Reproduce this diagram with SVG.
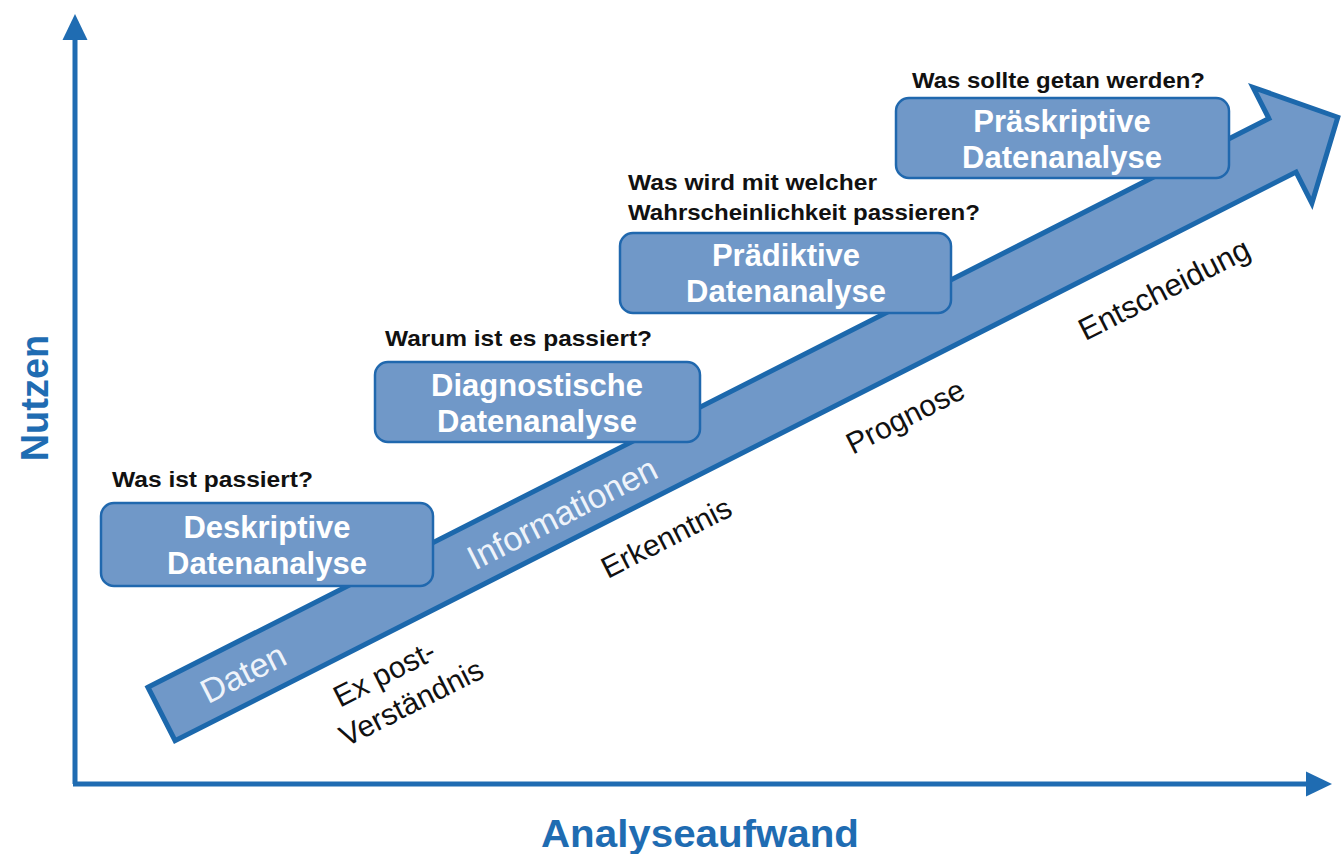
<svg xmlns="http://www.w3.org/2000/svg" width="1344" height="854" viewBox="0 0 1344 854">
<style>
.box{fill:#7098C8;stroke:#2068AE;stroke-width:2.5}
.bt{font-family:"Liberation Sans",Arial,sans-serif;font-weight:bold;font-size:31px;fill:#FFFFFF;text-anchor:middle}
.q{font-family:"Liberation Sans",Arial,sans-serif;font-weight:bold;font-size:22px;fill:#111111}
.al{font-family:"Liberation Sans",Arial,sans-serif;font-size:34px;fill:#EEF3FA;text-anchor:middle}
.bl{font-family:"Liberation Sans",Arial,sans-serif;font-size:30px;fill:#111111;text-anchor:middle}
.ax{stroke:#1F6CB2;stroke-width:5;fill:none}
.axl{font-family:"Liberation Sans",Arial,sans-serif;font-weight:bold;font-size:38px;fill:#1F6CB2}
</style>
<defs>
<marker id="ah" markerUnits="userSpaceOnUse" markerWidth="28" markerHeight="28" viewBox="0 0 28 28" refX="2" refY="14" orient="auto">
<path d="M0,1.5 L26,14 L0,26.5 Z" fill="#1F6CB2"/>
</marker>
</defs>
<rect width="1344" height="854" fill="#FFFFFF"/>
<g id="connectors">
<path class="ax" d="M75,784 L75,38" marker-end="url(#ah)"/>
<path class="ax" d="M73,784 L1308,784" marker-end="url(#ah)"/>
</g>
<g id="big-arrow">
<polygon transform="translate(161.5,714) rotate(-26.9)" points="0,-30 1257,-30 1257,-65 1319,0 1257,65 1257,30 0,30" fill="#7098C8" stroke="#1C68AC" stroke-width="5" stroke-linejoin="miter"/>
<text class="al" x="243" y="685" transform="rotate(-26.9 243 673)">Daten</text>
<text class="al" x="562" y="525" transform="rotate(-26.9 562 513)">Informationen</text>
</g>
<g id="stage-labels">
<text class="bl" x="384" y="684" transform="rotate(-26.9 384 673)">Ex post-</text>
<text class="bl" x="411" y="713" transform="rotate(-26.9 411 702)">Verständnis</text>
<text class="bl" x="666" y="548" transform="rotate(-26.9 666 537)">Erkenntnis</text>
<text class="bl" x="905" y="427" transform="rotate(-26.9 905 416)">Prognose</text>
<text class="bl" x="1164" y="300" transform="rotate(-26.9 1164 289)" style="font-size:31px">Entscheidung</text>
</g>
<g id="node-deskriptiv">
<text class="q" x="112" y="487" textLength="201" lengthAdjust="spacingAndGlyphs">Was ist passiert?</text>
<rect class="box" x="101" y="503" width="332" height="83" rx="13"/>
<text class="bt" x="267" y="538">Deskriptive</text>
<text class="bt" x="267" y="574">Datenanalyse</text>
</g>
<g id="node-diagnostisch">
<text class="q" x="385" y="346" textLength="267" lengthAdjust="spacingAndGlyphs">Warum ist es passiert?</text>
<rect class="box" x="375" y="362" width="325" height="80" rx="13"/>
<text class="bt" x="537" y="396">Diagnostische</text>
<text class="bt" x="537" y="432">Datenanalyse</text>
</g>
<g id="node-praediktiv">
<text class="q" x="628" y="190" textLength="249" lengthAdjust="spacingAndGlyphs">Was wird mit welcher</text>
<text class="q" x="628" y="220" textLength="352" lengthAdjust="spacingAndGlyphs">Wahrscheinlichkeit passieren?</text>
<rect class="box" x="620" y="233" width="331" height="80" rx="13"/>
<text class="bt" x="786" y="266">Prädiktive</text>
<text class="bt" x="786" y="302">Datenanalyse</text>
</g>
<g id="node-praeskriptiv">
<text class="q" x="912" y="88" textLength="293" lengthAdjust="spacingAndGlyphs">Was sollte getan werden?</text>
<rect class="box" x="896" y="98" width="333" height="80" rx="13"/>
<text class="bt" x="1062" y="132">Präskriptive</text>
<text class="bt" x="1062" y="168">Datenanalyse</text>
</g>
<g id="axis-labels">
<text class="axl" x="700" y="847" text-anchor="middle" textLength="318" lengthAdjust="spacingAndGlyphs">Analyseaufwand</text>
<text class="axl" x="0" y="0" text-anchor="middle" transform="translate(48,398) rotate(-90)">Nutzen</text>
</g>
</svg>
